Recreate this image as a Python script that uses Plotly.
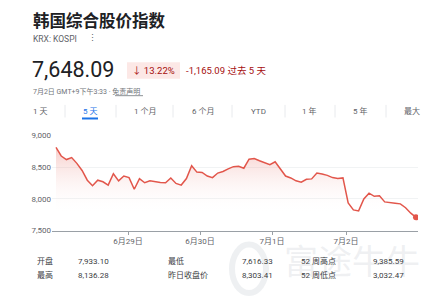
import plotly.graph_objects as go

# ---- data ----
prices = [8813, 8676, 8620, 8651, 8560, 8447, 8294, 8208, 8294, 8269, 8217, 8396, 8284, 8360,
          8335, 8151, 8320, 8254, 8284, 8269, 8258, 8254, 8330, 8243, 8217, 8320, 8523, 8422,
          8416, 8360, 8335, 8407, 8431, 8472, 8508, 8513, 8483, 8625, 8636, 8600, 8564, 8538,
          8584, 8472, 8360, 8330, 8284, 8263, 8309, 8315, 8407, 8391, 8370, 8335, 8320, 8330,
          7937, 7826, 7810, 7998, 8090, 8040, 8049, 7952, 7937, 7932, 7921, 7860, 7774, 7708]
steps = list(range(len(prices)))
tick_pos = [13.8, 27.6, 41.4, 55.6]
tick_labels = ["6月29日", "6月30日", "7月1日", "7月2日"]
y_ticks = [7500, 8000, 8500, 9000]
y_tick_labels = ["7,500", "8,000", "8,500", "9,000"]
tabs = ["1 天", "5 天", "1 个月", "6 个月", "YTD", "1 年", "5 年", "最大"]
row1 = ["开盘", "7,933.10", "最低", "7,616.33", "52 周高点", "9,385.59"]
row2 = ["最高", "8,136.28", "昨日收盘价", "8,303.41", "52 周低点", "3,032.47"]

W, H = 428, 302
def px(x): return x / W
def py(y): return 1 - y / H

FONT = "Roboto, 'Noto Sans CJK SC', Arial, sans-serif"
RED = "#e2564b"

fig = go.Figure()
fig.add_trace(go.Scatter(
    x=steps, y=prices, mode="lines",
    line=dict(color=RED, width=1.5),
    fill="tozeroy",
    fillgradient=dict(type="vertical", start=7800, stop=8800,
                      colorscale=[[0, "rgba(255,255,255,0)"], [1, "rgba(226,86,75,0.28)"]]),
    hoverinfo="skip", showlegend=False))
fig.add_trace(go.Scatter(
    x=[steps[-1]], y=[prices[-1]], mode="markers",
    marker=dict(color=RED, size=6), showlegend=False, hoverinfo="skip"))

x0, x1 = 52, 418
k = (416 - 56) / (len(prices) - 1)
fig.update_layout(
    width=W, height=H, margin=dict(l=0, r=0, t=0, b=0),
    paper_bgcolor="white", plot_bgcolor="white",
    font=dict(family=FONT, color="#3c4043"),
    xaxis=dict(domain=[px(x0), px(x1)],
               range=[-(56 - x0) / k, (x1 - 56) / k],
               tickvals=tick_pos, ticktext=tick_labels,
               showgrid=False, zeroline=False,
               showline=True, linecolor="#9aa0a6", linewidth=1,
               ticks="outside", ticklen=3, tickcolor="#9aa0a6",
               tickfont=dict(size=8, color="#5f6368")),
    yaxis=dict(domain=[py(233.5), py(135.5)], range=[7500, 9000],
               tickvals=y_ticks, ticktext=y_tick_labels,
               showgrid=True, gridcolor="#f1f3f4", gridwidth=1,
               zeroline=False, showline=False, ticks="",
               tickfont=dict(size=8, color="#5f6368")),
)

ann = []
def T(x, y, text, size, color="#202124", xa="left", bold=False, ya="middle"):
    ann.append(dict(x=px(x), y=py(y), xref="paper", yref="paper", text=text,
                    showarrow=False, xanchor=xa, yanchor=ya,
                    font=dict(size=size, color=color, family=FONT,
                              weight="bold" if bold else "normal")))

# watermark first so it lies beneath the other texts
ann.append(dict(x=px(352), y=py(266), xref="paper", yref="paper", text="富途牛牛",
                showarrow=False, xanchor="center", yanchor="middle",
                font=dict(size=34, color="rgba(200,205,212,0.3)", family=FONT)))

T(31, 17.5, "韩国综合股价指数", 16.5, "#202124", bold=True)
T(31, 36, "KRX: KOSPI", 8.5, "#5f6368")
T(86, 35, "⋮", 9, "#5f6368")
T(30, 68, "7,648.09", 21.5, "#202124")
T(153.5, 68.5, "↓ 13.22%", 9.5, "#a50e0e", xa="center")
T(184, 68.5, "-1,165.09 过去 5 天", 9.5, "#a50e0e")
T(31, 90, "7月2日 GMT+9下午3:33 · 免责声明", 7, "#70757a")

tab_x = [40, 90, 145, 203, 258, 309, 360, 412]
for t, x in zip(tabs, tab_x):
    T(x, 110.5, t, 8, "#1a73e8" if t == "5 天" else "#5f6368", xa="center")

col_x = [35, 76, 166, 240, 299, 371]
for vals, y in ((row1, 265), (row2, 279.5)):
    for v, x in zip(vals, col_x):
        T(x, y, v, 8, "#3c4043")

fig.update_layout(annotations=ann)

shapes = [
    dict(type="rect", xref="paper", yref="paper", x0=px(127), x1=px(180), y0=py(77), y1=py(60),
         fillcolor="#fce8e6", line=dict(width=0), layer="below"),
    dict(type="line", xref="paper", yref="paper", x0=px(82), x1=px(98), y0=py(118), y1=py(118),
         line=dict(color="#1a73e8", width=2)),
    dict(type="line", xref="paper", yref="paper", x0=px(115), x1=px(143), y0=py(94.5), y1=py(94.5),
         line=dict(color="#70757a", width=0.8)),
    dict(type="circle", xref="paper", yref="paper", x0=px(232), x1=px(266), y0=py(298), y1=py(248),
         line=dict(color="rgba(200,205,212,0.3)", width=6), layer="below"),
]
for sx in [65, 116, 173, 232, 285, 335, 386]:
    shapes.append(dict(type="line", xref="paper", yref="paper", x0=px(sx), x1=px(sx),
                       y0=py(104), y1=py(117), line=dict(color="#e8eaed", width=1)))
fig.update_layout(shapes=shapes)

fig.write_html("out.html")
